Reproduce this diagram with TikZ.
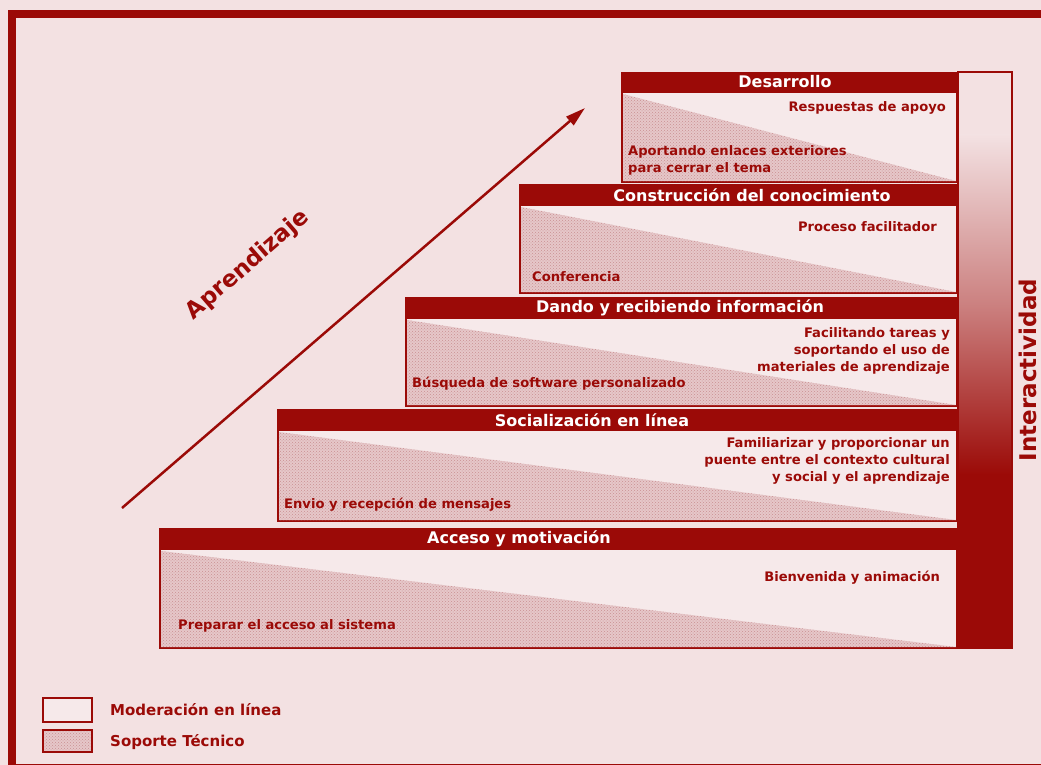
\documentclass[tikz,border=0pt]{standalone}
\usepackage{fontspec}
\setmainfont{DejaVu Sans}
\usetikzlibrary{arrows.meta,patterns}
\definecolor{bg}{HTML}{F3E1E2}
\definecolor{dred}{HTML}{9B0A07}
\definecolor{stipbg}{HTML}{E6C7C9}
\definecolor{stipdot}{HTML}{C98F92}
\definecolor{bodybg}{HTML}{F6E9EA}
\begin{document}
\begin{tikzpicture}[x=1pt,y=-1pt,
  hdrbar/.style={fill=dred},
  hdrtext/.style={text=white, font=\fontsize{16}{18}\selectfont\bfseries, inner sep=0pt},
  bodybox/.style={draw=dred, line width=1.8pt, fill=bodybg},
  stip/.style={preaction={fill=stipbg}, pattern=crosshatch dots, pattern color=stipdot},
  rtext/.style={text=dred, font=\fontsize{13.1}{17}\selectfont\bfseries, inner sep=0pt, anchor=east, align=right},
  ltext/.style={text=dred, font=\fontsize{13.1}{17}\selectfont\bfseries, inner sep=0pt, anchor=west, align=left},
  legtext/.style={text=dred, font=\fontsize{15}{17}\selectfont\bfseries, inner sep=0pt, anchor=west},
  bigtext/.style={text=dred, font=\fontsize{23}{26}\selectfont\bfseries, inner sep=0pt},
]
\useasboundingbox (0,0) rectangle (1041,765);
\fill[bg] (0,0) rectangle (1041,765);
\begin{scope}
\clip (0,0) rectangle (1041,765);
\draw[dred, line width=8pt] (12,14) rectangle (1050,768);
\end{scope}

% Interactividad bar
\fill[bg] (958,72) rectangle (1012,135);
\shade[top color=bg, bottom color=dred, middle color=dred!45!bg] (958,135) rectangle (1012,475);
\fill[dred] (958,474) rectangle (1012,648);
\draw[dred, line width=1.8pt] (958,72) rectangle (1012,648);
\node[bigtext, rotate=90] (inter) at (1028,370) {Interactividad};

% Step 5
\fill[hdrbar] (621,72) rectangle (958,92);
\draw[bodybox] (622,92) rectangle (957,182);
\fill[stip] (623,94) -- (623,181) -- (956,181) -- cycle;
\node[hdrtext] (h5) at (785,82) {Desarrollo};
\node[rtext] (r5) at (946,108) {Respuestas de apoyo};
\node[ltext] (l5) at (628,160) {Aportando enlaces exteriores\\para cerrar el tema};

% Step 4
\fill[hdrbar] (519,184) rectangle (958,205);
\draw[bodybox] (520,205) rectangle (957,293);
\fill[stip] (521,207) -- (521,292) -- (956,292) -- cycle;
\node[hdrtext] (h4) at (752,195) {Construcción del conocimiento};
\node[rtext] (r4) at (937,227) {Proceso facilitador};
\node[ltext] (l4) at (532,277) {Conferencia};

% Step 3
\fill[hdrbar] (405,297) rectangle (958,318);
\draw[bodybox] (406,318) rectangle (957,406);
\fill[stip] (407,320) -- (407,405) -- (956,405) -- cycle;
\node[hdrtext] (h3) at (680,308) {Dando y recibiendo información};
\node[rtext] (r3) at (950,351) {Facilitando tareas y\\soportando el uso de\\materiales de aprendizaje};
\node[ltext] (l3) at (412,384) {Búsqueda de software personalizado};

% Step 2
\fill[hdrbar] (277,409) rectangle (958,430);
\draw[bodybox] (278,430) rectangle (957,521);
\fill[stip] (279,432) -- (279,520) -- (956,520) -- cycle;
\node[hdrtext] (h2) at (592,420) {Socialización en línea};
\node[rtext] (r2) at (950,461) {Familiarizar y proporcionar un\\puente entre el contexto cultural\\y social y el aprendizaje};
\node[ltext] (l2) at (284,505) {Envio y recepción de mensajes};

% Step 1
\fill[hdrbar] (159,528) rectangle (958,549);
\draw[bodybox] (160,549) rectangle (957,648);
\fill[stip] (161,551) -- (161,647) -- (956,647) -- cycle;
\node[hdrtext] (h1) at (519,539) {Acceso y motivación};
\node[rtext] (r1) at (940,578) {Bienvenida y animación};
\node[ltext] (l1) at (178,626) {Preparar el acceso al sistema};

% Aprendizaje arrow
\coordinate (as) at (122,508);
\coordinate (ae) at (585,108);
\draw[dred, line width=2.5pt, -{Triangle[length=20pt,width=11pt]}] (as) -- (ae);
\node[bigtext, rotate=40.8] (apr) at (248,265) {Aprendizaje};

% Legend
\draw[dred, line width=1.5pt, fill=bodybg] (43,698) rectangle (92,722);
\draw[dred, line width=1.5pt, stip] (43,730) rectangle (92,752);
\node[legtext] (lg1) at (110,710) {Moderación en línea};
\node[legtext] (lg2) at (110,742) {Soporte Técnico};
\end{tikzpicture}
\end{document}
